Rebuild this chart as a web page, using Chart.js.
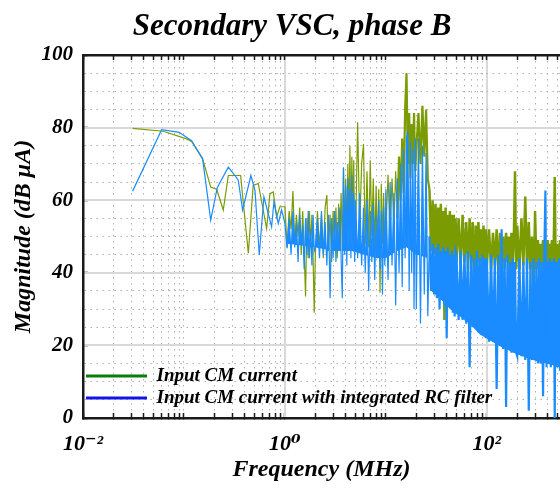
<!DOCTYPE html>
<html><head><meta charset="utf-8">
<script src="https://cdn.jsdelivr.net/npm/chart.js@4.4.1/dist/chart.umd.min.js"></script>
<style>html,body{margin:0;padding:0;background:#fff}#wrap{width:560px;height:489px;position:relative}</style>
</head><body><div id="wrap"><canvas id="c"></canvas></div>
<script>
// ---------------- data ----------------
const chartTitle = 'Secondary VSC, phase B';
const xAxisTitle = 'Frequency (MHz)';
const yAxisTitle = 'Magnitude (dB \u03BCA)';
const seriesNames = ['Input CM current', 'Input CM current with integrated RC filter'];

// low-frequency part (MHz / dB uA)
const freqLowGreen = [0.031, 0.0624, 0.106, 0.119, 0.153, 0.184, 0.211, 0.245, 0.275, 0.364, 0.434, 0.485, 0.544, 0.659, 0.71, 0.766, 0.828, 0.891, 1.0];
const magLowGreen  = [79.8, 79.0, 76.9, 76.2, 71.4, 63.6, 63.0, 57.3, 66.8, 66.8, 45.4, 64.1, 64.6, 52.2, 61.8, 62.3, 55.4, 58.2, 58.2];
const freqLowBlue  = [0.031, 0.0601, 0.0897, 0.119, 0.153, 0.184, 0.214, 0.275, 0.32, 0.345, 0.381, 0.46, 0.505, 0.557, 0.619, 0.738, 0.778, 0.859, 0.927, 1.0];
const magLowBlue   = [62.5, 79.4, 78.7, 76.4, 71.4, 54.5, 63.5, 69.1, 66.8, 65.5, 57.3, 66.8, 62.7, 44.9, 60.9, 52.7, 59.5, 53.6, 57.3, 53.6];

// dense part of the spectrum (shared frequency grid, MHz)
const freqHigh = [
  1.05,1.1,1.15,1.2,1.25,1.3,1.35,1.4,1.45,1.5,1.55,1.6,1.65,1.7,1.75,1.8,1.85,1.9,1.95,
  2,2.1,2.2,2.3,2.4,2.5,2.6,2.7,2.8,2.9,3,3.1,3.2,3.3,3.4,3.5,3.6,3.7,3.8,3.9,4,4.1,4.2,4.3,4.4,4.5,4.6,4.7,4.8,4.9,
  5,5.25,5.5,5.75,6,6.25,6.5,6.75,7,7.25,7.5,7.75,8,8.25,8.5,8.75,9,9.25,9.5,9.75,
  10,10.5,11,11.5,12,12.5,13,13.5,14,14.5,15,15.5,16,16.5,17,17.5,18,18.5,19,19.5,
  20,21,22,23,24,25,26,27,28,29,30,31,32,33,34,35,36,37,38,39,40,41,42,43,44,45,46,47,48,49,
  50,52.5,55,57.5,60,62.5,65,67.5,70,72.5,75,77.5,80,82.5,85,87.5,90,92.5,95,97.5,
  100,105,110,115,120,125,130,135,140,145,150,155,160,165,170,175,180,185,190,195,
  200,210,220,230,240,250,260,270,280,290,300,310,320,330,340,350,360,370,380,390,400,410,420,430,440,450,460,470,480,490,
  500,510,520,530,545,560,580,600,625
];
const magHighGreen = [
  47,57,52,62.5,48,56,50,58,45,57,46,33.5,55,44,57,47,56,44,29,
  45,57,47,56,44,58,61.4,46,56,43,57,47,58,44,59,48,62,46,69,50,66,48,70,52,75,50,72,54,71,49,
  50,81.5,52,70,75.5,48,68,47,71,50,66,46,64,47,63,34.5,64.5,48,62,46,
  52,67,50,66,53,68,55,72,60,77,62,85,95,70,84,66,81,70,84,68,
  74,84,70,86,72,85,66,63,46,60,45,59,44,58,43,59,44,57,27,58,43,56,42,57,44,56,43,56,43,55,
  43,55,42,56,43,54,41,55,43,54,30,53,42,54,43,52,41,53,42,52,
  42,52,41,51,42,52,40,51,42,50,41,51,43,50,31,51,42,50,68,41,
  53,41,55,42,61,41,54,41,50,29,57,41,49,40,48,42,49,41,48,40,49,40,48,41,49,40,48,66.4,40,48,
  41,48,42,49,41,48,41,47,40
];
const magHighBlue = [
  46.8,55,45,57,47,54,43,56,48,53,41,55,45,57,44,52,42,56,46,
  47,55,44,57,45,54,42,56,33,55,44,57,43,54,46,58,44,33,69,45,64,42,66,47,63,44,67,46,62,43,
  60,44,62,42,58,40,60,35,57,43,59,38,56,44,60,41,57,34,58,42,
  63,38,65,42,62,31,66,40,70,36,74,44,77,79,35,76,40,74,30,77,
  30,77,26,75,34,73,28,50,35,48,34,47,33,48,30,46,33,47,31,46,22,47,31,45,30,46,29,45,28,46,
  45,27,46,27,45,26,46,14,45,25,44,25,46,24,44,23,45,23,44,22,
  44,21,45,21,44,8,45,20,52,19,44,3,45,19,43,18,44,18,43,18,
  17,44,17,43,16,44,2,43,16,44,16,43,15,44,15,43,6,44,62.7,14,43,15,44,14,43,15,44,0,43,14,
  43,14,44,13,43,14,44,13,43
];
// lower edge of the solid part of the blue band
const freqBlueFloor = [1.05, 2, 3, 4.5, 6, 8, 10, 13, 16, 20, 26, 28, 34, 43, 67, 85, 135, 200, 280, 380, 530, 625];
const magBlueFloor  = [48, 47, 46, 46, 45, 44, 44, 46, 47, 45, 44, 35, 33, 30, 26, 23, 19.7, 17.5, 16, 15, 14, 13.5];

// axes / ticks
const xMin = 0.01, xMax = 530;
const xMajorTicks = [0.01, 1, 100];
const xMajorLabels = ['10\u207B\u00B2', '10\u2070', '10\u00B2'];
const xDecades = [0.01, 0.1, 1, 10, 100];
const xMultipliers = [1, 2, 3, 4, 5, 6, 7, 8, 9];
const yMin = 0, yMax = 100, yMinorStep = 5, yLabelStep = 20;
const yMajorTicks = [20, 40, 60, 80];

// ---------------- styling ----------------
const serif = "'Liberation Serif', 'Times New Roman', 'DejaVu Serif', serif";
const plotGreen = '#7a9c02';
const plotBlue = '#1a8cff';
const legendColors = ['#0b7d0b', '#1414e6'];
const gridMinor = '#b0b0b0';
const gridMajor = '#d9d9d9';
const axisColor = '#1a1a1a';
const greenDenseFrom = 13;   // MHz, where the olive trace becomes a solid band
const blueDenseFrom = 27;
const bi = (size, extra) => Object.assign({family: serif, size: size, style: 'italic', weight: 'bold'}, extra || {});

const xAllTicks = [];
xDecades.forEach(d => xMultipliers.forEach(m => {
  const v = +(d * m).toPrecision(6);
  if (v <= xMax) xAllTicks.push(v);
}));
const majorIndex = v => xMajorTicks.findIndex(t => Math.abs(Math.log10(v) - Math.log10(t)) < 1e-6);

const toPts = (fs, ms) => fs.map((f, i) => ({x: f, y: ms[i]}));
const greenPts = toPts(freqLowGreen, magLowGreen).concat(toPts(freqHigh, magHighGreen));
const bluePts = toPts(freqLowBlue, magLowBlue).concat(toPts(freqHigh, magHighBlue));
const floorPts = toPts(freqBlueFloor, magBlueFloor);

const noPad = s => { s.paddingLeft = 0; s.paddingRight = 0; };

const legendPlace = {
  id: 'legendPlace',
  afterLayout(chart) {
    const lg = chart.legend, ca = chart.chartArea;
    if (lg && ca) { lg.top = ca.top; lg.bottom = ca.bottom - 7.5; }
  }
};

new Chart(document.getElementById('c'), {
  type: 'line',
  data: {
    datasets: [
      { label: seriesNames[0], data: greenPts, borderColor: plotGreen, backgroundColor: plotGreen, borderWidth: 1.2, pointRadius: 0, tension: 0, order: 2, fill: false,
        segment: { borderWidth: c => (c.p0.parsed.x >= blueDenseFrom ? 2.5 : (c.p0.parsed.x >= greenDenseFrom ? 2.2 : 1.2)) } },
      { label: seriesNames[1], data: bluePts, borderColor: plotBlue, backgroundColor: plotBlue, borderWidth: 1.2, pointRadius: 0, tension: 0, order: 1,
        fill: { target: 2, above: plotBlue, below: 'rgba(0,0,0,0)' },
        segment: { borderWidth: c => (c.p0.parsed.x >= blueDenseFrom ? 2.2 : 1.2) } },
      { label: 'blue band floor', data: floorPts, borderWidth: 0, borderColor: 'rgba(0,0,0,0)', backgroundColor: 'rgba(0,0,0,0)', pointRadius: 0, tension: 0, order: 3, fill: false }
    ]
  },
  options: {
    responsive: true,
    maintainAspectRatio: false,
    animation: false,
    devicePixelRatio: 1,
    layout: { padding: { left: 24, right: 0, top: 0, bottom: 0 } },
    plugins: {
      title: { display: true, text: chartTitle, color: '#000', font: bi(31, {lineHeight: 1.0}), padding: { top: 11, bottom: 13 } },
      tooltip: { enabled: false },
      legend: {
        position: 'chartArea', align: 'end',
        labels: {
          boxWidth: 61, boxHeight: 3, padding: 3, color: '#000', font: bi(19),
          generateLabels: () => seriesNames.map((t, i) => ({
            text: t, fillStyle: legendColors[i], strokeStyle: legendColors[i], lineWidth: 0,
            hidden: false, datasetIndex: i, fontColor: '#000'
          }))
        }
      }
    },
    scales: {
      x: {
        type: 'logarithmic', position: 'bottom', min: xMin, max: xMax,
        afterBuildTicks: s => { s.ticks = xAllTicks.map(v => ({value: v})); },
        afterFit: s => { s.height = 71; noPad(s); },
        ticks: {
          autoSkip: false, maxRotation: 0, minRotation: 0, padding: 18, color: '#000', font: bi(22),
          callback: v => { const k = majorIndex(v); return k >= 0 ? xMajorLabels[k] : ''; }
        },
        grid: {
          color: c => (c.tick && majorIndex(c.tick.value) >= 0) ? 'rgba(0,0,0,0)' : gridMinor,
          lineWidth: 1, drawTicks: true, tickLength: -5, tickColor: axisColor, tickWidth: 1.5
        },
        border: { display: true, color: axisColor, width: 2.5, dash: [1.5, 4.5] },
        title: { display: true, text: xAxisTitle, color: '#000', font: bi(24), padding: { top: 0, bottom: 5 } }
      },
      xMajor: {
        type: 'logarithmic', position: 'bottom', min: xMin, max: xMax,
        afterBuildTicks: s => { s.ticks = xMajorTicks.map(v => ({value: v})); },
        afterFit: s => { s.height = 0; noPad(s); },
        ticks: { display: false },
        grid: { color: gridMajor, lineWidth: 2, drawTicks: false },
        border: { display: false }
      },
      xTop: {
        type: 'logarithmic', position: 'top', min: xMin, max: xMax,
        afterBuildTicks: s => { s.ticks = xAllTicks.map(v => ({value: v})); },
        afterFit: s => { s.height = 0; noPad(s); },
        ticks: { display: false },
        grid: { drawOnChartArea: false, drawTicks: true, tickLength: -5, tickColor: axisColor, tickWidth: 1.5 },
        border: { display: true, color: axisColor, width: 2.5 }
      },
      y: {
        type: 'linear', position: 'left', min: yMin, max: yMax,
        afterFit: s => { s.width = 59; },
        ticks: {
          stepSize: yMinorStep, autoSkip: false, padding: 15, color: '#000', font: bi(21),
          callback: v => (v % yLabelStep === 0 ? String(v) : '')
        },
        grid: {
          color: c => (c.tick && c.tick.value % yLabelStep === 0) ? 'rgba(0,0,0,0)' : gridMinor,
          lineWidth: 1, drawTicks: true, tickLength: -5, tickWidth: 1.5,
          tickColor: c => (c.tick && c.tick.value % yLabelStep === 0) ? axisColor : 'rgba(0,0,0,0)'
        },
        border: { display: true, color: axisColor, width: 2.5, dash: [1.5, 4.5] },
        title: { display: true, text: yAxisTitle, color: '#000', font: bi(24, {lineHeight: 0.65}), padding: { top: -8, bottom: 0 } }
      },
      yMajor: {
        type: 'linear', position: 'left', min: yMin, max: yMax,
        afterBuildTicks: s => { s.ticks = yMajorTicks.map(v => ({value: v})); },
        afterFit: s => { s.width = 0; },
        ticks: { display: false },
        grid: { color: gridMajor, lineWidth: 2, drawTicks: false },
        border: { display: false }
      }
    }
  },
  plugins: [legendPlace]
});
</script></body></html>
